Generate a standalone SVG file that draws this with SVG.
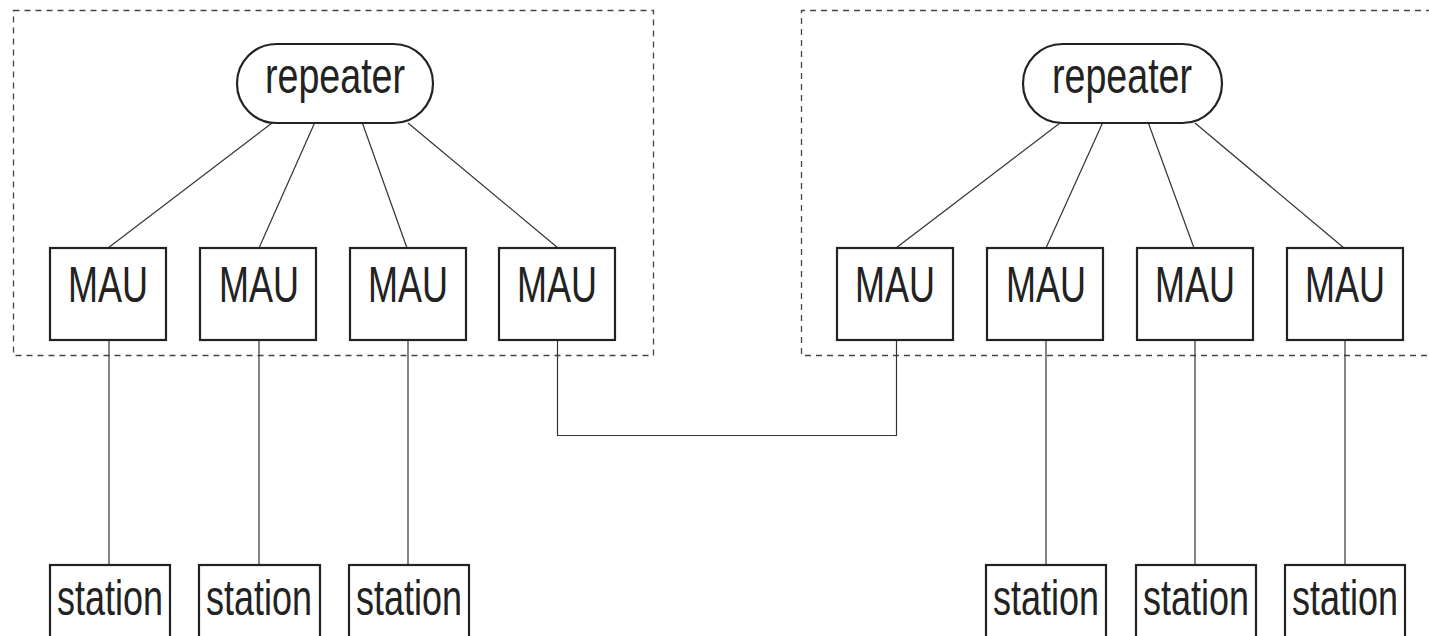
<svg xmlns="http://www.w3.org/2000/svg" width="1429" height="636" viewBox="0 0 1429 636">
<style>
.bg{fill:#fff}
.grp{fill:none;stroke:#444;stroke-width:1.3;stroke-dasharray:6 5}
.box{fill:#fff;stroke:#222;stroke-width:2.2}
.pill{fill:#fff;stroke:#222;stroke-width:2.2}
.con{fill:none;stroke:#333;stroke-width:1.2}
.t{font-family:"Liberation Sans",Arial,sans-serif;font-size:50px;fill:#222;text-anchor:middle}
</style>
<rect class="bg" x="0" y="0" width="1429" height="636"/>
<g id="groups">
<rect class="grp" x="13.5" y="10.5" width="640" height="345"/>
<path class="grp" d="M1432 10.5 H801.5 V355.5 H1432"/>
</g>
<g id="connectors">
<line class="con" x1="272" y1="123" x2="108" y2="248"/>
<line class="con" x1="315" y1="122" x2="259" y2="248"/>
<line class="con" x1="362" y1="122" x2="407" y2="248"/>
<line class="con" x1="408" y1="123" x2="558" y2="248"/>
<line class="con" x1="1060" y1="123" x2="896" y2="248"/>
<line class="con" x1="1103" y1="122" x2="1046" y2="248"/>
<line class="con" x1="1148" y1="122" x2="1194" y2="248"/>
<line class="con" x1="1195" y1="123" x2="1344" y2="248"/>
<line class="con" x1="109" y1="340" x2="109" y2="565"/>
<line class="con" x1="259" y1="340" x2="259" y2="565"/>
<line class="con" x1="408" y1="340" x2="408" y2="565"/>
<line class="con" x1="1046" y1="340" x2="1046" y2="565"/>
<line class="con" x1="1195" y1="340" x2="1195" y2="565"/>
<line class="con" x1="1345" y1="340" x2="1345" y2="565"/>
<path class="con" d="M557.5 340 V435.5 H896.5 V340"/>
</g>
<g id="repeater1"><rect class="pill" x="237" y="44" width="196" height="79" rx="39.5"/><text class="t" x="335" y="93" textLength="140" lengthAdjust="spacingAndGlyphs">repeater</text></g>
<g id="repeater2"><rect class="pill" x="1023" y="44" width="199" height="79" rx="39.5"/><text class="t" x="1122" y="93" textLength="140" lengthAdjust="spacingAndGlyphs">repeater</text></g>
<g id="mau1"><rect class="box" x="50" y="248" width="116" height="92"/><text class="t" x="108" y="302" textLength="80" lengthAdjust="spacingAndGlyphs">MAU</text></g>
<g id="mau2"><rect class="box" x="200" y="248" width="116" height="92"/><text class="t" x="259" y="302" textLength="80" lengthAdjust="spacingAndGlyphs">MAU</text></g>
<g id="mau3"><rect class="box" x="350" y="248" width="116" height="92"/><text class="t" x="408" y="302" textLength="80" lengthAdjust="spacingAndGlyphs">MAU</text></g>
<g id="mau4"><rect class="box" x="499" y="248" width="116" height="92"/><text class="t" x="557" y="302" textLength="80" lengthAdjust="spacingAndGlyphs">MAU</text></g>
<g id="mau5"><rect class="box" x="837" y="248" width="116" height="92"/><text class="t" x="895" y="302" textLength="80" lengthAdjust="spacingAndGlyphs">MAU</text></g>
<g id="mau6"><rect class="box" x="987" y="248" width="116" height="92"/><text class="t" x="1046" y="302" textLength="80" lengthAdjust="spacingAndGlyphs">MAU</text></g>
<g id="mau7"><rect class="box" x="1137" y="248" width="116" height="92"/><text class="t" x="1195" y="302" textLength="80" lengthAdjust="spacingAndGlyphs">MAU</text></g>
<g id="mau8"><rect class="box" x="1287" y="248" width="116" height="92"/><text class="t" x="1345" y="302" textLength="80" lengthAdjust="spacingAndGlyphs">MAU</text></g>
<g id="station1"><rect class="box" x="50" y="565" width="120" height="80"/><text class="t" x="110" y="615" textLength="106" lengthAdjust="spacingAndGlyphs">station</text></g>
<g id="station2"><rect class="box" x="199" y="565" width="121" height="80"/><text class="t" x="259" y="615" textLength="106" lengthAdjust="spacingAndGlyphs">station</text></g>
<g id="station3"><rect class="box" x="349" y="565" width="120" height="80"/><text class="t" x="409" y="615" textLength="106" lengthAdjust="spacingAndGlyphs">station</text></g>
<g id="station4"><rect class="box" x="986" y="565" width="120" height="80"/><text class="t" x="1046" y="615" textLength="106" lengthAdjust="spacingAndGlyphs">station</text></g>
<g id="station5"><rect class="box" x="1136" y="565" width="120" height="80"/><text class="t" x="1196" y="615" textLength="106" lengthAdjust="spacingAndGlyphs">station</text></g>
<g id="station6"><rect class="box" x="1285" y="565" width="120" height="80"/><text class="t" x="1345" y="615" textLength="106" lengthAdjust="spacingAndGlyphs">station</text></g>
</svg>
